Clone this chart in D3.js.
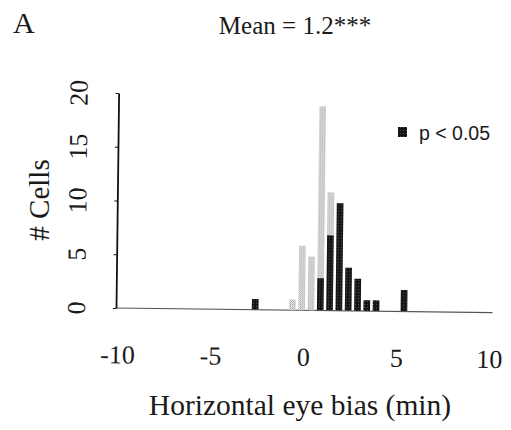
<!DOCTYPE html>
<html>
<head>
<meta charset="utf-8">
<script src="https://cdn.jsdelivr.net/npm/d3@7/dist/d3.min.js"></script>
<style>
  html, body { margin: 0; padding: 0; background: #fff; }
  svg { display: block; }
</style>
</head>
<body>
<script>
// Histogram of horizontal eye bias per cell (bin centres in min).
const binCenters = [-2.6, -0.6, -0.1, 0.4, 0.9, 1.4, 1.9, 2.4, 2.9, 3.4, 3.9, 5.4];
const allCells   = [1, 1, 6, 5, 19, 11, 10, 4, 3, 1, 1, 2];   // every cell (stippled)
const sigCells   = [1, 0, 0, 0, 3, 7, 10, 4, 3, 1, 1, 2];     // p < 0.05 (solid)

const xTicks = [-10, -5, 0, 5, 10];
const yTicks = [0, 5, 10, 15, 20];

const panelLabel = "A";
const titleText = "Mean = 1.2***";
const xTitle = "Horizontal eye bias (min)";
const yTitle = "# Cells";
const legendText = "p < 0.05";

const W = 511, H = 430;
const serif = "'Liberation Serif', 'Times New Roman', serif";
const sans = "'Liberation Sans', Arial, sans-serif";
const ink = "#1a1a1a";

const svg = d3.select("body").append("svg")
  .attr("width", W).attr("height", H);

svg.append("rect").attr("width", W).attr("height", H).attr("fill", "#fff");

const defs = svg.append("defs");
const stip = defs.append("pattern").attr("id", "stipple")
  .attr("width", 2).attr("height", 2).attr("patternUnits", "userSpaceOnUse");
stip.append("rect").attr("width", 2).attr("height", 2).attr("fill", "#f2f2f2");
stip.append("rect").attr("x", 0).attr("y", 0).attr("width", 1).attr("height", 1).attr("fill", "#999");
stip.append("rect").attr("x", 1).attr("y", 1).attr("width", 1).attr("height", 1).attr("fill", "#b8b8b8");

const solid = defs.append("pattern").attr("id", "solid")
  .attr("width", 3).attr("height", 3).attr("patternUnits", "userSpaceOnUse");
solid.append("rect").attr("width", 3).attr("height", 3).attr("fill", "#151515");
solid.append("rect").attr("x", 1).attr("y", 1).attr("width", 1).attr("height", 1).attr("fill", "#555");

const x = d3.scaleLinear().domain([-10, 10]).range([117.5, 489.5]);
const y = d3.scaleLinear().domain([0, 20]).range([308, 93]);

// the printed panel sits at a slight clockwise tilt
const plot = svg.append("g")
  .attr("transform", `rotate(0.7, ${x(-10)}, ${y(0)})`);

// x axis: bare baseline with labels underneath
plot.append("line")
  .attr("x1", x(-10) - 2).attr("x2", x(10) + 3)
  .attr("y1", y(0)).attr("y2", y(0))
  .attr("stroke", "#555").attr("stroke-width", 1.1);

const xAxis = d3.axisBottom(x).tickValues(xTicks).tickSize(0).tickPadding(37)
  .tickFormat(d => d < 0 ? "-" + Math.abs(d) : String(d));
const gx = plot.append("g").attr("transform", `translate(0,${y(0)})`).call(xAxis);
gx.select(".domain").remove();
gx.selectAll("text")
  .attr("font-family", serif).attr("font-size", 26).attr("fill", ink);

// y axis with rotated tick labels
const yAxis = d3.axisLeft(y).tickValues(yTicks).tickSize(3).tickSizeOuter(0);
const gy = plot.append("g").attr("transform", `translate(${x(-10) - 1.5},0)`).call(yAxis);
gy.select(".domain").attr("stroke", "#111").attr("stroke-width", 1.8);
gy.selectAll(".tick line").attr("stroke", "#111");
gy.selectAll("text")
  .attr("x", null).attr("dy", null)
  .attr("transform", "translate(-31,0) rotate(-90)")
  .attr("text-anchor", "middle")
  .attr("font-family", serif).attr("font-size", 26).attr("fill", ink);

// bars: all cells behind, significant cells on top
const barW = 6.6;
const bins = binCenters.map((c, i) => ({ c, all: allCells[i], sig: sigCells[i] }));

plot.append("g").selectAll("rect").data(bins.filter(d => d.all > 0)).join("rect")
  .attr("x", d => x(d.c) - barW / 2)
  .attr("width", barW)
  .attr("y", d => y(d.all))
  .attr("height", d => y(0) - y(d.all))
  .attr("fill", "url(#stipple)");

plot.append("g").selectAll("rect").data(bins.filter(d => d.sig > 0)).join("rect")
  .attr("x", d => x(d.c) - barW / 2)
  .attr("width", barW)
  .attr("y", d => y(d.sig))
  .attr("height", d => y(0) - y(d.sig))
  .attr("fill", "url(#solid)");

// legend
svg.append("rect")
  .attr("x", 398).attr("y", 127).attr("width", 9).attr("height", 10)
  .attr("fill", "url(#solid)");
svg.append("text")
  .attr("x", 419).attr("y", 139.5)
  .attr("font-family", sans).attr("font-size", 19.5).attr("fill", ink)
  .text(legendText);

// titles
svg.append("text")
  .attr("x", 13).attr("y", 33)
  .attr("font-family", serif).attr("font-size", 30).attr("fill", ink)
  .text(panelLabel);

svg.append("text")
  .attr("x", 295).attr("y", 34)
  .attr("text-anchor", "middle")
  .attr("font-family", serif).attr("font-size", 25).attr("fill", ink)
  .text(titleText);

svg.append("text")
  .attr("x", 300).attr("y", 415)
  .attr("text-anchor", "middle")
  .attr("font-family", serif).attr("font-size", 29.5).attr("fill", ink)
  .text(xTitle);

svg.append("text")
  .attr("transform", `translate(49,200) rotate(-90)`)
  .attr("text-anchor", "middle")
  .attr("font-family", serif).attr("font-size", 29).attr("fill", ink)
  .text(yTitle);
</script>
</body>
</html>
